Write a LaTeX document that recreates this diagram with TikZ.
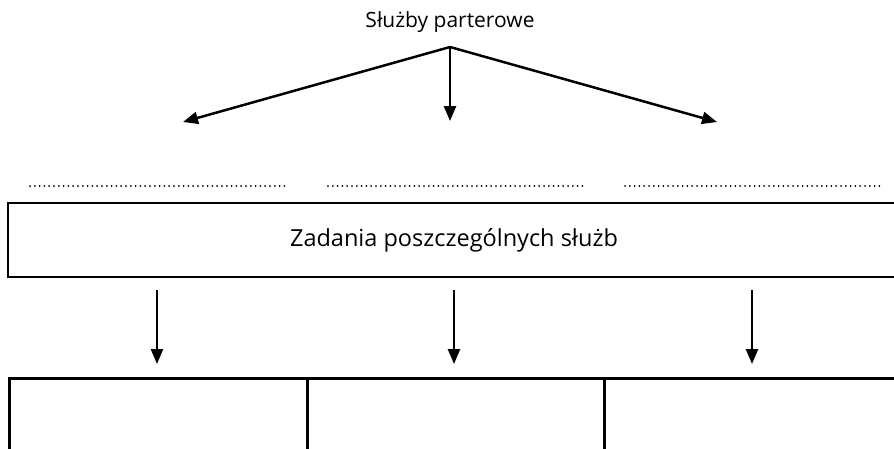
\documentclass[tikz,border=0pt]{standalone}
\usepackage{fontspec}
\setmainfont{Open Sans}
\usetikzlibrary{arrows.meta}
\begin{document}
\begin{tikzpicture}[x=1pt,y=-1pt,
  conn/.style={line width=2.5pt,-{Triangle[length=15pt,width=12pt]}},
  boxst/.style={draw,line width=2.6pt,inner sep=0pt},
  dots/.style={line width=2pt,line cap=round,dash pattern=on 0pt off 4.8pt},
  lbl/.style={inner sep=0pt,anchor=center}]
\useasboundingbox (0,0) rectangle (894,448);
\clip (0,0) rectangle (894,448);
\fill[white] (0,0) rectangle (894,448);
% title
\node[lbl,font=\fontsize{21}{24}\selectfont] (title) at (450,22) {Służby parterowe};
\coordinate (apex) at (450,47);
\coordinate (t1) at (183,122);
\coordinate (t2) at (450,121);
\coordinate (t3) at (717,122);
\draw[conn] (apex) -- (t1);
\draw[conn] (apex) -- (t2);
\draw[conn] (apex) -- (t3);
% dotted lines
\coordinate (d1a) at (30,186); \coordinate (d1b) at (287,186);
\coordinate (d2a) at (328,186); \coordinate (d2b) at (585,186);
\coordinate (d3a) at (625,186); \coordinate (d3b) at (881,186);
\draw[dots] (d1a) -- (d1b);
\draw[dots] (d2a) -- (d2b);
\draw[dots] (d3a) -- (d3b);
% main box
\draw[boxst] (8,203) rectangle (902,277);
\node[lbl,font=\fontsize{23.5}{27}\selectfont] (big) at (454,240) {Zadania poszczególnych służb};
% bottom boxes
\node[boxst,minimum width=298pt,minimum height=120pt,anchor=north west] (b1) at (8,377) {};
\node[boxst,minimum width=297pt,minimum height=120pt,anchor=north west] (b2) at (306,377) {};
\node[boxst,minimum width=298pt,minimum height=120pt,anchor=north west] (b3) at (603,377) {};
\coordinate (s1) at (157,290); \coordinate (s2) at (454,290); \coordinate (s3) at (752,290);
\coordinate (e1) at (157,364); \coordinate (e2) at (454,364); \coordinate (e3) at (752,364);
\draw[conn] (s1) -- (e1);
\draw[conn] (s2) -- (e2);
\draw[conn] (s3) -- (e3);
\end{tikzpicture}
\end{document}
